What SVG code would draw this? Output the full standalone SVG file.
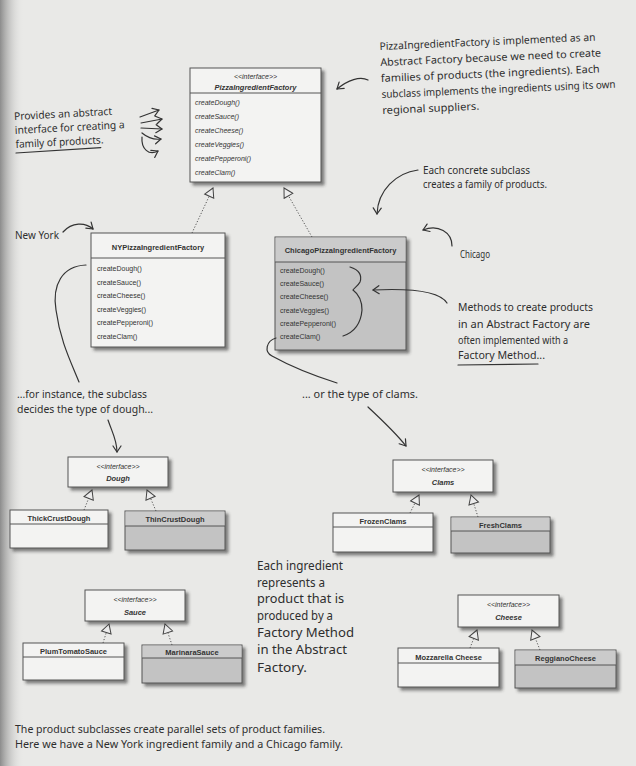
<svg xmlns="http://www.w3.org/2000/svg" width="636" height="766" viewBox="0 0 636 766">
<defs>
<linearGradient id="spine" x1="0" y1="0" x2="1" y2="0">
<stop offset="0" stop-color="#8c8c8c"/>
<stop offset="1" stop-color="#e9e9e7" stop-opacity="0"/>
</linearGradient>
<filter id="sh" x="-10%" y="-10%" width="130%" height="140%">
<feDropShadow dx="3" dy="3" stdDeviation="1.6" flood-color="#333" flood-opacity="0.6"/>
</filter>
<marker id="tri" viewBox="-11 -6 12 12" refX="0" refY="0" markerWidth="12" markerHeight="12" markerUnits="userSpaceOnUse" orient="auto">
<path d="M0,0 L-9,-5 L-9,5 Z" fill="#ececec" stroke="#444" stroke-width="1"/>
</marker>
<marker id="ah" viewBox="-8 -5 9 10" refX="0" refY="0" markerWidth="9" markerHeight="10" markerUnits="userSpaceOnUse" orient="auto">
<path d="M-6,-4 L0,0 L-6,4" fill="none" stroke="#333" stroke-width="1.2" stroke-linecap="round" stroke-linejoin="round"/>
</marker>
<style>
.box{stroke:#555;stroke-width:1;filter:url(#sh)}
.w{fill:#f3f3f2}
.g{fill:#c3c3c3}
.gh{fill:#cbcbcb;stroke:none}
.sep{stroke:#555;stroke-width:1}
.t{font-family:"Liberation Sans",Arial,sans-serif;fill:#333}
.nm{font-size:7.5px;font-weight:bold;text-anchor:middle}
.st{font-size:7px;font-style:italic;text-anchor:middle}
.inm{font-size:7.5px;font-weight:bold;font-style:italic;text-anchor:middle}
.m{font-size:7px}
.mi{font-size:7px;font-style:italic}
.real{fill:none;stroke:#555;stroke-width:1;stroke-dasharray:1.2 1.8;marker-end:url(#tri)}
.hw{font-family:"Noto Sans","DejaVu Sans",sans-serif;fill:#2e2e2e;font-size:10.5px}
.hwb{font-family:"Noto Sans","DejaVu Sans",sans-serif;fill:#2e2e2e;font-size:12px}
.pen{fill:none;stroke:#333;stroke-width:1.2;stroke-linecap:round}
.arr{marker-end:url(#ah)}
</style>
</defs>

<rect width="636" height="766" fill="#e9e9e7"/>
<rect width="24" height="766" fill="url(#spine)"/>

<g id="connectors">
<path class="real" d="M192,233 L213,188"/>
<path class="real" d="M312,237 L284,188"/>
<path class="real" d="M84,510 L92,490"/>
<path class="real" d="M156,511 L147,490"/>
<path class="real" d="M410,513 L419,495"/>
<path class="real" d="M478,517 L471,495"/>
<path class="real" d="M103,643 L109,624"/>
<path class="real" d="M172,645 L165,624"/>
<path class="real" d="M470,648 L477,630"/>
<path class="real" d="M540,650 L532,630"/>
</g>

<g id="PizzaIngredientFactory">
<rect class="box w" x="190" y="68" width="131" height="114"/>
<line class="sep" x1="190" y1="93" x2="321" y2="93"/>
<text class="t st" x="255.5" y="79">&lt;&lt;interface&gt;&gt;</text>
<text class="t inm" x="255.5" y="90">PizzaIngredientFactory</text>
<text class="t mi" x="195" y="105">createDough()</text>
<text class="t mi" x="195" y="119">createSauce()</text>
<text class="t mi" x="195" y="133">createCheese()</text>
<text class="t mi" x="195" y="147">createVeggies()</text>
<text class="t mi" x="195" y="161">createPepperoni()</text>
<text class="t mi" x="195" y="175">createClam()</text>
</g>

<g id="NYPizzaIngredientFactory">
<rect class="box w" x="91" y="233" width="134" height="114"/>
<line class="sep" x1="91" y1="258" x2="225" y2="258"/>
<text class="t nm" x="158" y="250">NYPizzaIngredientFactory</text>
<text class="t m" x="97" y="271">createDough()</text>
<text class="t m" x="97" y="284.6">createSauce()</text>
<text class="t m" x="97" y="298.2">createCheese()</text>
<text class="t m" x="97" y="311.8">createVeggies()</text>
<text class="t m" x="97" y="325.4">createPepperoni()</text>
<text class="t m" x="97" y="339">createClam()</text>
</g>

<g id="ChicagoPizzaIngredientFactory">
<rect class="box g" x="275" y="237" width="131" height="113"/>
<rect class="gh" x="275.5" y="237.5" width="130" height="24.5"/>
<line class="sep" x1="275" y1="262" x2="406" y2="262"/>
<text class="t nm" x="340.5" y="253">ChicagoPizzaIngredientFactory</text>
<text class="t m" x="280" y="273">createDough()</text>
<text class="t m" x="280" y="286.2">createSauce()</text>
<text class="t m" x="280" y="299.4">createCheese()</text>
<text class="t m" x="280" y="312.6">createVeggies()</text>
<text class="t m" x="280" y="325.8">createPepperoni()</text>
<text class="t m" x="280" y="339">createClam()</text>
</g>

<g id="Dough">
<rect class="box w" x="68" y="457" width="100" height="30"/>
<text class="t st" x="118" y="469">&lt;&lt;interface&gt;&gt;</text>
<text class="t inm" x="118" y="481">Dough</text>
</g>
<g id="ThickCrustDough">
<rect class="box w" x="10" y="510" width="98" height="38"/>
<line class="sep" x1="10" y1="524" x2="108" y2="524"/>
<text class="t nm" x="59" y="520.5">ThickCrustDough</text>
</g>
<g id="ThinCrustDough">
<rect class="box g" x="125" y="511" width="100" height="39"/>
<rect class="gh" x="125.5" y="511.5" width="99" height="14.5"/>
<line class="sep" x1="125" y1="526" x2="225" y2="526"/>
<text class="t nm" x="175" y="522">ThinCrustDough</text>
</g>

<g id="Clams">
<rect class="box w" x="393" y="460" width="100" height="32"/>
<text class="t st" x="443" y="472">&lt;&lt;interface&gt;&gt;</text>
<text class="t inm" x="443" y="484.5">Clams</text>
</g>
<g id="FrozenClams">
<rect class="box w" x="333" y="513" width="100" height="39"/>
<line class="sep" x1="333" y1="527" x2="433" y2="527"/>
<text class="t nm" x="383" y="523.5">FrozenClams</text>
</g>
<g id="FreshClams">
<rect class="box g" x="451" y="517" width="99" height="36"/>
<rect class="gh" x="451.5" y="517.5" width="98" height="13.5"/>
<line class="sep" x1="451" y1="531" x2="550" y2="531"/>
<text class="t nm" x="500.5" y="527.5">FreshClams</text>
</g>

<g id="Sauce">
<rect class="box w" x="85" y="590" width="100" height="31"/>
<text class="t st" x="135" y="602">&lt;&lt;interface&gt;&gt;</text>
<text class="t inm" x="135" y="614.5">Sauce</text>
</g>
<g id="PlumTomatoSauce">
<rect class="box w" x="23" y="643" width="101" height="37"/>
<line class="sep" x1="23" y1="657" x2="124" y2="657"/>
<text class="t nm" x="73.5" y="653.5">PlumTomatoSauce</text>
</g>
<g id="MarinaraSauce">
<rect class="box g" x="142" y="645" width="100" height="38"/>
<rect class="gh" x="142.5" y="645.5" width="99" height="12.5"/>
<line class="sep" x1="142" y1="658" x2="242" y2="658"/>
<text class="t nm" x="192" y="655">MarinaraSauce</text>
</g>

<g id="Cheese">
<rect class="box w" x="458" y="595" width="101" height="32"/>
<text class="t st" x="508.5" y="607">&lt;&lt;interface&gt;&gt;</text>
<text class="t inm" x="508.5" y="619.5">Cheese</text>
</g>
<g id="MozzarellaCheese">
<rect class="box w" x="398" y="648" width="101" height="39"/>
<line class="sep" x1="398" y1="663" x2="499" y2="663"/>
<text class="t nm" x="448.5" y="659.5">Mozzarella Cheese</text>
</g>
<g id="ReggianoCheese">
<rect class="box g" x="515" y="650" width="101" height="38"/>
<rect class="gh" x="515.5" y="650.5" width="100" height="14.5"/>
<line class="sep" x1="515" y1="665" x2="616" y2="665"/>
<text class="t nm" x="565.5" y="661">ReggianoCheese</text>
</g>

<g id="annotations">
<g transform="rotate(-2.5 381 80)">
<text class="hw" x="381" y="50" textLength="216" lengthAdjust="spacingAndGlyphs">PizzaIngredientFactory is implemented as an</text>
<text class="hw" x="381" y="66" textLength="221" lengthAdjust="spacingAndGlyphs">Abstract Factory because we need to create</text>
<text class="hw" x="381" y="82" textLength="219" lengthAdjust="spacingAndGlyphs">families of products (the ingredients). Each</text>
<text class="hw" x="381" y="98" textLength="234" lengthAdjust="spacingAndGlyphs">subclass implements the ingredients using its own</text>
<text class="hw" x="381" y="114" textLength="97" lengthAdjust="spacingAndGlyphs">regional suppliers.</text>
</g>
<path class="pen arr" d="M368,80 C360,76 348,80 337,89"/>

<g transform="rotate(-3 15 134)">
<text class="hw" x="15" y="120" textLength="98" lengthAdjust="spacingAndGlyphs">Provides an abstract</text>
<text class="hw" x="15" y="134" textLength="110" lengthAdjust="spacingAndGlyphs">interface for creating a</text>
<text class="hw" x="15" y="148" textLength="88" lengthAdjust="spacingAndGlyphs">family of products.</text>
<path class="pen" d="M15,153 L100,152"/>
</g>
<path class="pen arr" d="M140,117 L159,110"/>
<path class="pen arr" d="M141,123 L162,119"/>
<path class="pen arr" d="M141,128 L162,129"/>
<path class="pen arr" d="M142,133 C148,138 154,140 161,139"/>
<path class="pen arr" d="M142,137 C141,149 149,156 158,151"/>

<text class="hw" x="423" y="174" textLength="107" lengthAdjust="spacingAndGlyphs">Each concrete subclass</text>
<text class="hw" x="423" y="188" textLength="124" lengthAdjust="spacingAndGlyphs">creates a family of products.</text>
<path class="pen arr" d="M418,170 C396,173 378,190 377,214"/>

<text class="hw" x="460" y="258" textLength="30" lengthAdjust="spacingAndGlyphs">Chicago</text>
<path class="pen arr" d="M452,246 C452,232 438,224 423,230"/>

<text class="hw" x="15" y="239" textLength="44" lengthAdjust="spacingAndGlyphs">New York</text>
<path class="pen arr" d="M63,232 C72,222 85,222 93,229"/>

<path class="pen" d="M350,267 C360,270 362,276 360,282 C358,286 354,288 353,290 C357,293 362,298 362,310 C361,322 355,332 343,336"/>

<text class="hw" x="458" y="311" textLength="135" lengthAdjust="spacingAndGlyphs">Methods to create products</text>
<text class="hw" x="458" y="328" textLength="132" lengthAdjust="spacingAndGlyphs">in an Abstract Factory are</text>
<text class="hw" x="458" y="344" textLength="110" lengthAdjust="spacingAndGlyphs">often implemented with a</text>
<text class="hw" x="458" y="359" textLength="87" lengthAdjust="spacingAndGlyphs">Factory Method...</text>
<path class="pen" d="M458,365 L538,364"/>
<path class="pen arr" d="M447,303 C440,292 415,288 373,290"/>

<path class="pen" d="M86,265 C62,266 52,285 56,310 C60,340 70,360 79,382"/>
<text class="hw" x="17" y="398" textLength="130" lengthAdjust="spacingAndGlyphs">...for instance, the subclass</text>
<text class="hw" x="17" y="413" textLength="136" lengthAdjust="spacingAndGlyphs">decides the type of dough...</text>
<path class="pen arr" d="M108,420 C112,432 117,440 117,452"/>

<path class="pen" d="M276,338 C266,341 264,352 272,356 C290,366 315,376 337,383"/>
<text class="hw" x="302" y="398" textLength="116" lengthAdjust="spacingAndGlyphs">... or the type of clams.</text>
<path class="pen arr" d="M368,407 C382,420 395,432 406,446"/>

<text class="hwb" x="257" y="570" textLength="86" lengthAdjust="spacingAndGlyphs">Each ingredient</text>
<text class="hwb" x="257" y="587" textLength="68" lengthAdjust="spacingAndGlyphs">represents a</text>
<text class="hwb" x="257" y="603" textLength="87" lengthAdjust="spacingAndGlyphs">product that is</text>
<text class="hwb" x="257" y="620" textLength="76" lengthAdjust="spacingAndGlyphs">produced by a</text>
<text class="hwb" x="257" y="637" textLength="97" lengthAdjust="spacingAndGlyphs">Factory Method</text>
<text class="hwb" x="257" y="654" textLength="90" lengthAdjust="spacingAndGlyphs">in the Abstract</text>
<text class="hwb" x="257" y="672" textLength="50" lengthAdjust="spacingAndGlyphs">Factory.</text>

<text class="hw" x="15" y="733" textLength="310" lengthAdjust="spacingAndGlyphs">The product subclasses create parallel sets of product families.</text>
<text class="hw" x="15" y="748" textLength="328" lengthAdjust="spacingAndGlyphs">Here we have a New York ingredient family and a Chicago family.</text>
</g>
</svg>
